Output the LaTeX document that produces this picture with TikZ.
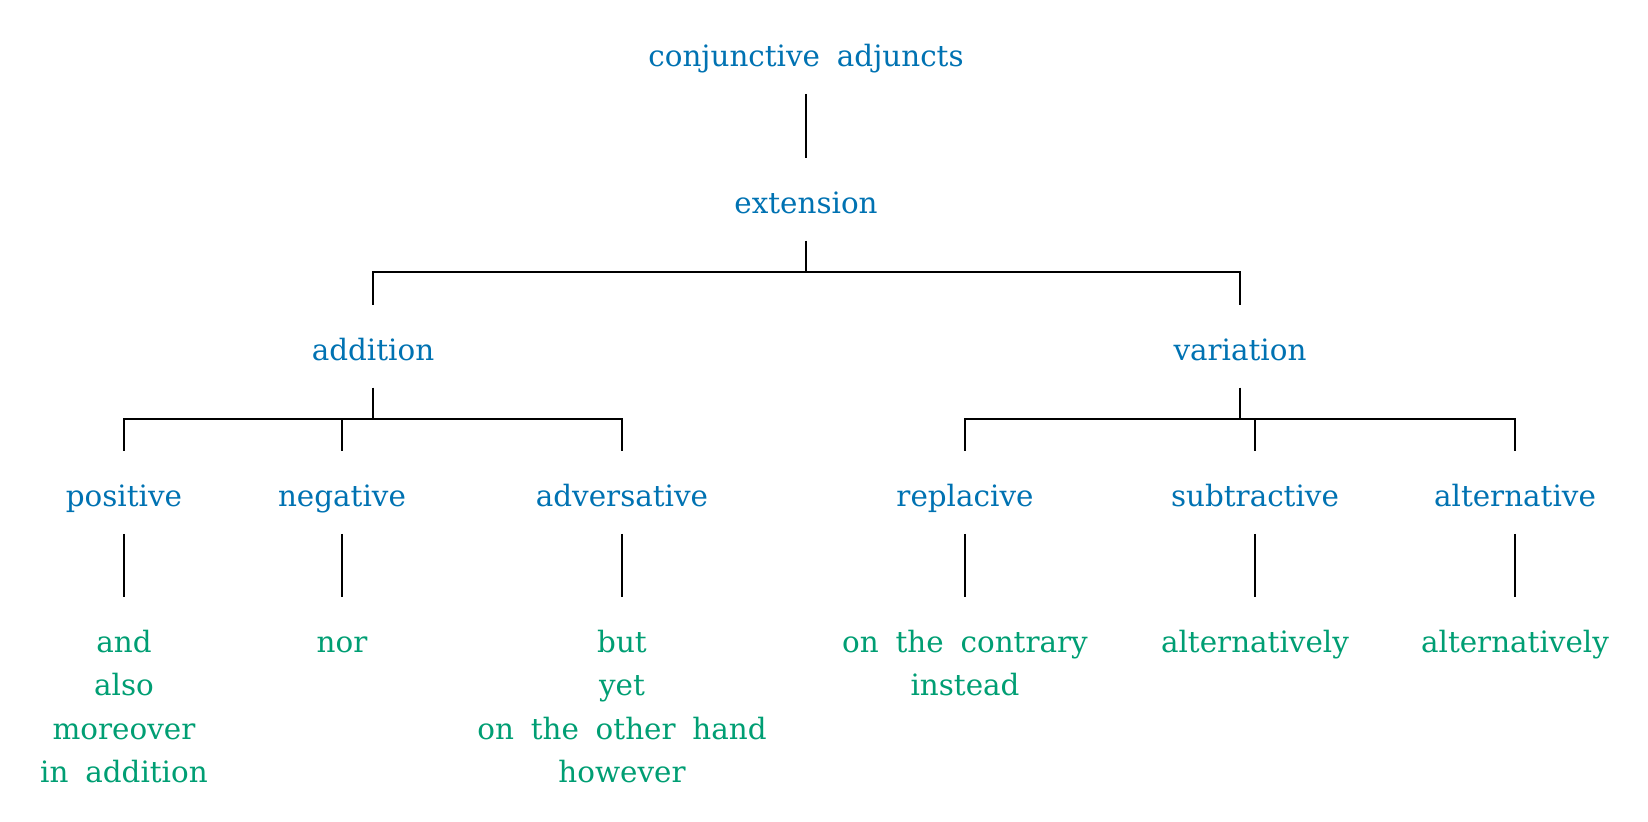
\documentclass[tikz,border=0pt]{standalone}
\usepackage{fontspec}
\setmainfont{DejaVu Serif}[WordSpace=1.8]
\definecolor{sysblue}{HTML}{0072B2}
\definecolor{sysgreen}{HTML}{009E73}
\newcommand{\wordstack}[1]{\begin{tabular}[t]{@{}c@{}}#1\end{tabular}}
\tikzset{term/.style={anchor=base,inner sep=0pt,text height=27.5pt,text depth=13.75pt,text=sysblue},words/.style={anchor=base,inner sep=0pt,text height=27.5pt,text=sysgreen},link/.style={draw=black,line width=1pt}}
\begin{document}
\begin{tikzpicture}[x=0.5pt,y=-0.5pt,font=\fontsize{14.7}{21.75}\selectfont]
\useasboundingbox (0,0) rectangle (1648,821);
\node[term] (conj) at (806,66) {conjunctive adjuncts};
\node[term] (ext) at (806,213) {extension};
\node[term] (add) at (373,360) {addition};
\node[term] (var) at (1240,360) {variation};
\foreach \x/\id/\txt in {124/pos/positive,342/neg/negative,622/adv/adversative,965/rep/replacive,1255/sub/subtractive,1515/alt/alternative}{\node[term] (\id) at (\x,506) {\txt};}
\foreach \x/\id/\txt in {124/pos/{and\\also\\moreover\\in addition},342/neg/{nor},622/adv/{but\\yet\\on the other hand\\however},965/rep/{on the contrary\\instead},1255/sub/{alternatively},1515/alt/{alternatively}}{\node[words] (\id-w) at (\x,652) {\wordstack{\txt}};}
% tree links
\draw[link] (conj.south) -- (ext.north);
\foreach \c in {add,var}{\draw[link] (ext.south) -- ++(0,31) -| (\c.north);}
\foreach \c in {pos,neg,adv}{\draw[link] (add.south) -- ++(0,31) -| (\c.north);}
\foreach \c in {rep,sub,alt}{\draw[link] (var.south) -- ++(0,31) -| (\c.north);}
\foreach \c in {pos,neg,adv,rep,sub,alt}{\draw[link] (\c.south) -- (\c-w.north);}
\end{tikzpicture}
\end{document}
